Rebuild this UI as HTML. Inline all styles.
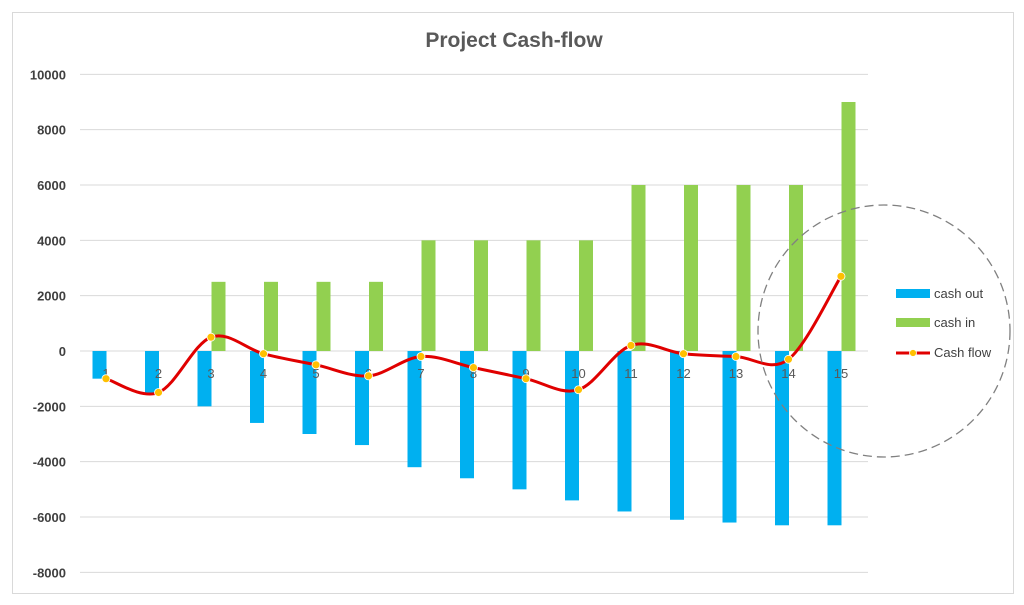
<!DOCTYPE html>
<html><head><meta charset="utf-8"><style>
body{margin:0;background:#fff;}
svg{display:block;font-family:"Liberation Sans",sans-serif;}
</style></head><body>
<svg id="s" width="1024" height="605" xmlns="http://www.w3.org/2000/svg">
<rect x="0" y="0" width="1024" height="605" fill="#fff"/>
<rect x="12.5" y="12.5" width="1001" height="581" fill="#fff" stroke="#d9d9d9"/>
<text x="514" y="47" text-anchor="middle" font-size="21" font-weight="bold" fill="#595959">Project Cash-flow</text>
<g id="g"></g>
<circle cx="884" cy="331" r="126" fill="none" stroke="#808080" stroke-width="1.3" stroke-dasharray="9,5"/>
<rect x="896" y="289" width="34" height="9" fill="#00b0f0"/>
<text x="934" y="298" font-size="13" fill="#404040">cash out</text>
<rect x="896" y="318" width="34" height="9" fill="#92d050"/>
<text x="934" y="327" font-size="13" fill="#404040">cash in</text>
<line x1="896" y1="353" x2="930" y2="353" stroke="#e00000" stroke-width="3"/>
<circle cx="913" cy="353" r="3.5" fill="#ffc000" stroke="#fff" stroke-width="0.8"/>
<text x="934" y="357" font-size="13" fill="#404040">Cash flow</text>
</svg>
<script>
var g=document.getElementById('g'),h='';
function Y(v){return 351-v*0.027667;}
for(var v=-8000;v<=10000;v+=2000){var y=Y(v);
h+='<line x1="80" x2="868" y1="'+y+'" y2="'+y+'" stroke="#d9d9d9"/>';
h+='<text x="66" y="'+(y+5)+'" text-anchor="end" font-size="13" font-weight="bold" fill="#404040">'+v+'</text>';}
var out=[-1000,-1500,-2000,-2600,-3000,-3400,-4200,-4600,-5000,-5400,-5800,-6100,-6200,-6300,-6300];
var inn=[0,0,2500,2500,2500,2500,4000,4000,4000,4000,6000,6000,6000,6000,9000];
var cf=[-1000,-1500,500,-100,-500,-900,-200,-600,-1000,-1400,200,-100,-200,-300,2700];
var pts=[];
for(var i=0;i<15;i++){var c=106+i*52.5;
h+='<rect x="'+(c-13.5)+'" y="351" width="14" height="'+(-out[i]*0.027667)+'" fill="#00b0f0"/>';
if(inn[i])h+='<rect x="'+(c+0.5)+'" y="'+Y(inn[i])+'" width="14" height="'+(inn[i]*0.027667)+'" fill="#92d050"/>';
pts.push([c,Y(cf[i])]);}
for(var i=0;i<15;i++){var c=106+i*52.5;h+='<text x="'+c+'" y="378" text-anchor="middle" font-size="13" fill="#595959">'+(i+1)+'</text>';}
var d='M'+pts[0][0]+','+pts[0][1];
for(var i=0;i<14;i++){var p0=pts[Math.max(0,i-1)],p1=pts[i],p2=pts[i+1],p3=pts[Math.min(14,i+2)];
var t=0.5/3;
d+=' C'+(p1[0]+(p2[0]-p0[0])*t)+','+(p1[1]+(p2[1]-p0[1])*t)+' '+(p2[0]-(p3[0]-p1[0])*t)+','+(p2[1]-(p3[1]-p1[1])*t)+' '+p2[0]+','+p2[1];}
h+='<path d="'+d+'" fill="none" stroke="#e00000" stroke-width="3"/>';
pts.forEach(function(p){h+='<circle cx="'+p[0]+'" cy="'+p[1]+'" r="4" fill="#ffc000" stroke="#fff" stroke-width="0.8"/>';});
g.innerHTML=h;
</script>
</body></html>
